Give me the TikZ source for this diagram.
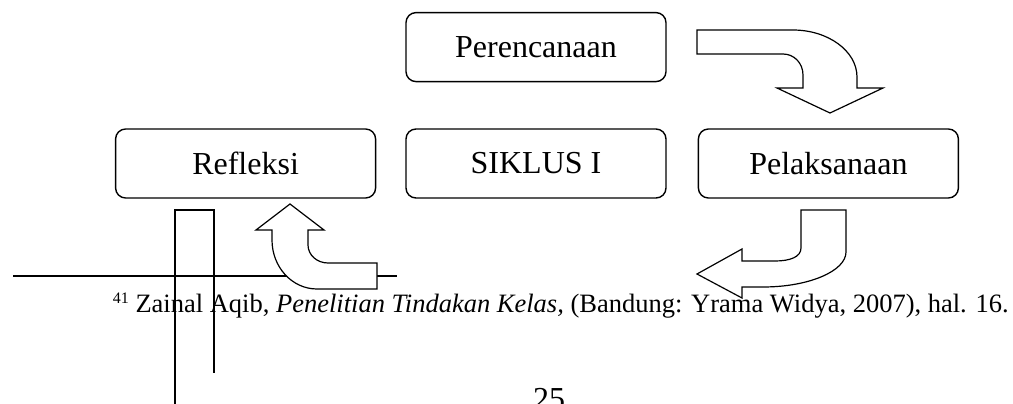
\documentclass[tikz,border=0pt]{standalone}
\usepackage{fontspec}
\setmainfont{Liberation Serif}
\usetikzlibrary{positioning}
\begin{document}
\begin{tikzpicture}[x=1pt, y=-1pt,
		box/.style={draw, line width=1.4pt, rounded corners=10pt, minimum width=260pt, minimum height=69pt, inner sep=0pt, font=\fontsize{32}{38}\selectfont},
		bigarrow/.style={draw, fill=white, line width=1.2pt, line join=miter},
		rule/.style={line width=1.4pt}
		]
	\useasboundingbox (0,0) rectangle (1013,404);
	\node [box] (siklus) at (536,163.5) {SIKLUS I};
	\node [box, above=46pt of siklus] (rencana) {Perencanaan};
	\node [box, left=29pt of siklus] (refleksi) {Refleksi};
	\node [box, right=31pt of siklus] (laksana) {Pelaksanaan};
	\draw [bigarrow] (697,30) -- (793,30) .. controls (828,30) and (857,51) .. (857,77) -- (857,88) -- (883,88) -- (830,113) -- (777,88) -- (803,88) -- (803,75) .. controls (803,63) and (794,54) .. (783,54) -- (697,54) -- cycle;
	\draw [bigarrow] (801,210) -- (846,210) -- (846,252) .. controls (846,271) and (809,287) .. (763,287) -- (742,287) -- (742,298) -- (697,274) -- (742,249) -- (742,261) -- (775,261) .. controls (790,261) and (801,257) .. (801,248) -- cycle;
	\draw [rule] (13,276) -- (397,276);
	\draw [bigarrow] (290,204) -- (324,230) -- (308,230) -- (308,245) .. controls (308,255) and (317,263) .. (328,263) -- (377,263) -- (377,289) -- (317,289) .. controls (292,289) and (272,267) .. (272,240) -- (272,230) -- (256,230) -- cycle;
	\node [anchor=base east, inner sep=0pt, font=\fontsize{26.5}{30}\selectfont] (catatan) at (1009,312) {\raisebox{9pt}{\fontsize{16}{16}\selectfont 41} Zainal Aqib, \textit{Penelitian Tindakan Kelas,} (Bandung: Yrama Widya, 2007), hal. 16.};
	\node [anchor=north, inner sep=0pt, font=\fontsize{32}{38}\selectfont] (halaman) at (549,388) {25};
	\draw [line width=1.2pt] (175,404) -- (175,210) -- (214,210) -- (214,373);
\end{tikzpicture}
\end{document}
